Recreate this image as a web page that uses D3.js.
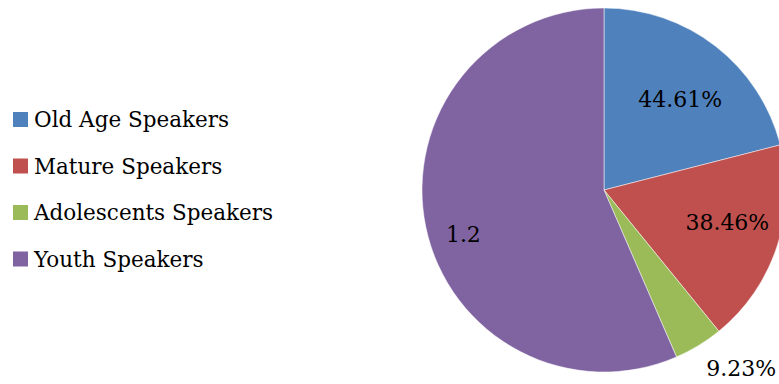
<!DOCTYPE html>
<html>
<head>
<meta charset="utf-8">
<script src="https://cdn.jsdelivr.net/npm/d3@7"></script>
<style>
  body { margin: 0; background: #fff; }
  svg { display: block; font-family: "DejaVu Serif", "Liberation Serif", serif; }
</style>
</head>
<body>
<svg id="chart" width="779" height="384"></svg>
<script>
const categories = ["Old Age Speakers", "Mature Speakers", "Adolescents Speakers", "Youth Speakers"];
const values = [0.4461, 0.3846, 0.0923, 1.2];
const valueLabels = ["44.61%", "38.46%", "9.23%", "1.2"];
const colors = ["#4F81BD", "#C0504D", "#9BBB59", "#8064A2"];

const svg = d3.select("#chart");
const cx = 604, cy = 190, radius = 182;

const data = categories.map((name, i) => ({ name, value: values[i], label: valueLabels[i] }));

const color = d3.scaleOrdinal().domain(categories).range(colors);

const pie = d3.pie().sort(null).value(d => d.value);
const arcs = pie(data);

const arc = d3.arc().innerRadius(0).outerRadius(radius);

// label placement tweaks (radius factor, angle shift) to sit like excel's best fit
const labelFit = [
  { r: 0.65, da: 0.04 },
  { r: 0.70, da: -0.065 },
  { r: 1.08, da: 0, outside: true },
  { r: 0.81, da: -0.1 }
];

function labelPos(d, i) {
  const f = labelFit[i];
  const a = (d.startAngle + d.endAngle) / 2 + f.da;
  return [Math.sin(a) * radius * f.r, -Math.cos(a) * radius * f.r];
}

const g = svg.append("g").attr("transform", `translate(${cx},${cy})`);

g.selectAll("path")
  .data(arcs)
  .enter().append("path")
  .attr("fill", d => color(d.data.name))
  .attr("stroke", "#fff")
  .attr("stroke-width", 0.5)
  .attr("d", arc);

g.selectAll("text.val")
  .data(arcs)
  .enter().append("text")
  .attr("class", "val")
  .attr("transform", (d, i) => `translate(${labelPos(d, i)})`)
  .attr("text-anchor", (d, i) => labelFit[i].outside ? "start" : "middle")
  .attr("y", (d, i) => labelFit[i].outside ? 10 : 0)
  .attr("dy", "0.35em")
  .style("font-size", "22px")
  .attr("fill", "#000")
  .text(d => d.data.label);

// legend
const legend = svg.append("g").attr("transform", "translate(13,112)");
const rowH = 46.5;

legend.selectAll("rect")
  .data(categories)
  .enter().append("rect")
  .attr("x", 0)
  .attr("y", (d, i) => i * rowH)
  .attr("width", 15)
  .attr("height", 15)
  .attr("fill", d => color(d));

legend.selectAll("text")
  .data(categories)
  .enter().append("text")
  .attr("x", 21)
  .attr("y", (d, i) => i * rowH + 7.5)
  .attr("dy", "0.35em")
  .style("font-size", "21.5px")
  .attr("fill", "#000")
  .text(d => d);
</script>
</body>
</html>
